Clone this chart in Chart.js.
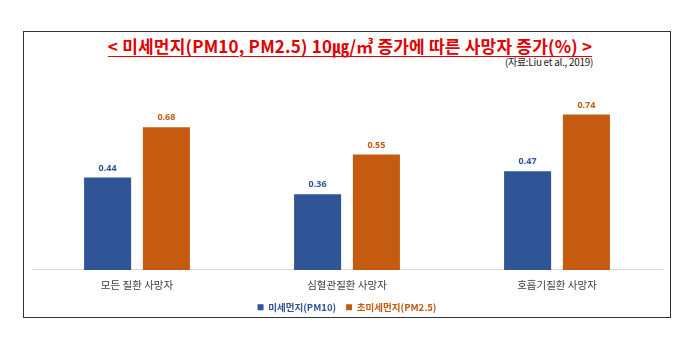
<!DOCTYPE html>
<html>
<head>
<meta charset="utf-8">
<script src="https://cdn.jsdelivr.net/npm/chart.js@4"></script>
<style>
  body { margin: 0; background: #fff; width: 700px; height: 344px; position: relative; font-family: "Noto Sans CJK KR", sans-serif; }
  #box { position: absolute; left: 23px; top: 31px; width: 646px; height: 285px; border: 1.5px solid #333; }
  #title { position: absolute; left: 0; width: 700px; top: 33px; text-align: center; color: #e00000; font-weight: bold; font-size: 17px; text-decoration: underline; text-underline-offset: 3px; letter-spacing: 0.2px; }
  #source { position: absolute; right: 107px; top: 54px; font-size: 10px; color: #222; letter-spacing: -0.3px; }
  #wrap { position: absolute; left: 23px; top: 31px; width: 649px; height: 291px; }
</style>
</head>
<body>
<div id="box"></div>
<div id="title">&lt; 미세먼지(PM10, PM2.5) 10㎍/㎥ 증가에 따른 사망자 증가(%) &gt;</div>
<div id="source">(자료:Liu et al., 2019)</div>
<div id="wrap"><canvas id="bar-chart"></canvas></div>
<script>
var categories = ['모든 질환 사망자', '심혈관질환 사망자', '호흡기질환 사망자'];
var pm10 = [0.44, 0.36, 0.47];
var pm25 = [0.68, 0.55, 0.74];
var seriesNames = ['미세먼지(PM10)', '초미세먼지(PM2.5)'];
var colors = ['#2F5597', '#C55A11'];

// scrive i valori sopra le barre
var valueLabels = {
    id: 'valueLabels',
    afterDatasetsDraw: function(chart) {
        var ctx = chart.ctx;
        ctx.save();
        ctx.font = 'bold 9px "Noto Sans", sans-serif';
        ctx.textAlign = 'center';
        ctx.textBaseline = 'bottom';
        chart.data.datasets.forEach(function(ds, i) {
            var meta = chart.getDatasetMeta(i);
            ctx.fillStyle = ds.backgroundColor;
            meta.data.forEach(function(bar, j) {
                ctx.fillText(ds.data[j].toFixed(2), bar.x, bar.y - 5);
            });
        });
        ctx.restore();
    }
};

function buildBarChart() {
    var ctx = document.getElementById('bar-chart');
    new Chart(ctx, {
        type: 'bar',
        data: {
            labels: categories,
            datasets: [{
                label: seriesNames[0],
                data: pm10,
                backgroundColor: colors[0]
            }, {
                label: seriesNames[1],
                data: pm25,
                backgroundColor: colors[1]
            }]
        },
        options: {
            responsive: true,
            maintainAspectRatio: false,
            animation: false,
            categoryPercentage: 0.56,
            barPercentage: 0.8,
            layout: { padding: { left: 9, right: 10, top: 71, bottom: 0 } },
            scales: {
                x: {
                    grid: { display: false },
                    border: { color: '#d9d9d9' },
                    ticks: { color: '#404040', font: { size: 10.5, family: '"Noto Sans CJK KR"' }, padding: 1 }
                },
                y: { display: false, min: 0, max: 0.8 }
            },
            plugins: {
                legend: {
                    position: 'bottom',
                    labels: {
                        boxWidth: 6,
                        boxHeight: 6,
                        padding: 10,
                        font: { size: 9.5, weight: 'bold', family: '"Noto Sans CJK KR"' },
                        generateLabels: function(chart) {
                            return chart.data.datasets.map(function(ds, i) {
                                return {
                                    text: ds.label,
                                    fillStyle: ds.backgroundColor,
                                    strokeStyle: ds.backgroundColor,
                                    lineWidth: 0,
                                    fontColor: ds.backgroundColor,
                                    datasetIndex: i
                                };
                            });
                        }
                    }
                },
                tooltip: { enabled: false }
            }
        },
        plugins: [valueLabels]
    });
}

buildBarChart();
</script>
</body>
</html>
